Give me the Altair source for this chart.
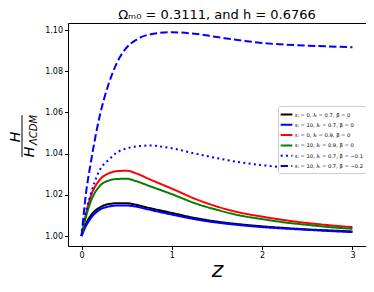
import altair as alt
import pandas as pd

z = [0, 0.05, 0.1, 0.2, 0.3, 0.4, 0.5, 0.6, 0.75, 1.0, 1.25, 1.5, 1.75, 2.0, 2.25, 2.5, 2.75, 3.0]

black = [1.000, 1.0060, 1.0098, 1.0138, 1.0155, 1.0159, 1.0159, 1.0152, 1.0136, 1.0112, 1.0088, 1.0070, 1.0057, 1.0047, 1.0039, 1.0032, 1.0027, 1.0022]
blue = [1.000, 1.0050, 1.0085, 1.0127, 1.0143, 1.0148, 1.0148, 1.0143, 1.0128, 1.0104, 1.0082, 1.0065, 1.0053, 1.0043, 1.0036, 1.0030, 1.0024, 1.0019]
red = [1.000, 1.0110, 1.0190, 1.0272, 1.0304, 1.0315, 1.0317, 1.0305, 1.0276, 1.0230, 1.0182, 1.0143, 1.0114, 1.0094, 1.0077, 1.0063, 1.0052, 1.0043]
green = [1.000, 1.0095, 1.0165, 1.0242, 1.0269, 1.0277, 1.0278, 1.0267, 1.0243, 1.0203, 1.0160, 1.0127, 1.0100, 1.0082, 1.0066, 1.0054, 1.0043, 1.0035]
dotted = [1.000, 1.0120, 1.0200, 1.0320, 1.0370, 1.0408, 1.0425, 1.0435, 1.0439, 1.0426, 1.0401, 1.0378, 1.0358, 1.0344, 1.0333, 1.0325, 1.0318, 1.0312]
dashed = [1.000, 1.0210, 1.0350, 1.0580, 1.0738, 1.0848, 1.0915, 1.0951, 1.0978, 1.0989, 1.0982, 1.0966, 1.0950, 1.0937, 1.0929, 1.0924, 1.0920, 1.0916]

labels = [
    "εᵢ = 0, λᵢ = 0.7, β = 0",
    "εᵢ = 10, λᵢ = 0.7, β = 0",
    "εᵢ = 0, λᵢ = 0.9, β = 0",
    "εᵢ = 10, λᵢ = 0.9, β = 0",
    "εᵢ = 10, λᵢ = 0.7, β = −0.1",
    "εᵢ = 10, λᵢ = 0.7, β = −0.2",
]
colors = ["black", "#0000ff", "#ff0000", "#008000", "#0000ff", "#0000ff"]
dashes = [[1, 0], [1, 0], [1, 0], [1, 0], [2, 3.3], [7.4, 3.2]]
series = [black, blue, red, green, dotted, dashed]

rows = []
for lab, vals in zip(labels, series):
    for zz, v in zip(z, vals):
        rows.append({"z": zz, "H": v, "case": lab})
df = pd.DataFrame(rows)

FONT = "DejaVu Sans"

lines = alt.Chart(df).mark_line(strokeWidth=2, interpolate="monotone", clip=True).encode(
    x=alt.X("z:Q", scale=alt.Scale(domain=[-0.15, 3.15], nice=False, zero=False),
            axis=alt.Axis(values=[0, 1, 2, 3], format="d", title="z", titleFontSize=22,
                          titleFontStyle="italic", titleFontWeight="normal", titleFont=FONT,
                          titlePadding=0, titleColor="black")),
    y=alt.Y("H:Q", scale=alt.Scale(domain=[0.99515, 1.1034], nice=False, zero=False),
            axis=alt.Axis(values=[1.00, 1.02, 1.04, 1.06, 1.08, 1.10], format=".2f", title=None)),
    color=alt.Color("case:N", scale=alt.Scale(domain=labels, range=colors),
                    legend=alt.Legend(title=None, orient="none", legendX=210, legendY=83,
                                      symbolType="M-1.3,0H1.3", symbolSize=81, symbolStrokeWidth=2,
                                      labelFontSize=5.2, labelFont=FONT, labelColor="black",
                                      rowPadding=0.3, padding=3, fillColor="white",
                                      strokeColor="#cccccc", cornerRadius=2, labelOffset=3,
                                      labelLimit=200)),
    strokeDash=alt.StrokeDash("case:N", scale=alt.Scale(domain=labels, range=dashes), legend=None),
)

num = alt.Chart(pd.DataFrame({"t": ["H"]})).mark_text(
    angle=270, fontSize=14, fontStyle="italic", font=FONT, align="center", baseline="middle", color="black"
).encode(x=alt.value(-52), y=alt.value(114), text="t:N")

bar = alt.Chart(pd.DataFrame({"t": [0]})).mark_rule(color="black", strokeWidth=1).encode(
    x=alt.value(-46), y=alt.value(92), y2=alt.value(134))

den = alt.Chart(pd.DataFrame({"t": ["H"]})).mark_text(
    angle=270, fontSize=14, fontStyle="italic", font=FONT, align="center", baseline="middle", color="black"
).encode(x=alt.value(-38.5), y=alt.value(129), text="t:N")

sub = alt.Chart(pd.DataFrame({"t": ["ΛCDM"]})).mark_text(
    angle=270, fontSize=10, fontStyle="italic", font=FONT, align="center", baseline="middle", color="black"
).encode(x=alt.value(-34), y=alt.value(107), text="t:N")

chart = alt.layer(lines, num, bar, den, sub).properties(
    width=298, height=223,
    padding={"left": 60, "top": 15, "right": 0, "bottom": 37},
    autosize=alt.AutoSizeParams(type="none"),
    title=alt.TitleParams("Ωₘ₀ = 0.3111, and h = 0.6766", fontSize=13, font=FONT,
                          fontWeight="normal", anchor="middle", offset=1, color="black"),
).configure_view(stroke="black", strokeWidth=1).configure_axis(
    grid=False, domain=False, tickColor="black", tickSize=3.5, labelFontSize=8, labelFont=FONT,
    labelColor="black", labelPadding=2
)

chart.save("out.html", embed_options={"renderer": "svg", "actions": False})
